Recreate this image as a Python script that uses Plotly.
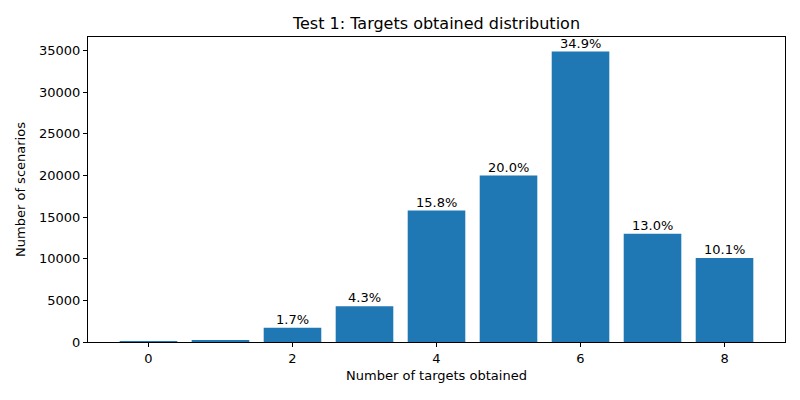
import plotly.graph_objects as go

"""DATA"""
targets = [0, 1, 2, 3, 4, 5, 6, 7, 8]
scenarios = [60, 140, 1700, 4300, 15800, 20000, 34900, 13000, 10100]

total = sum(scenarios)
labels = []
for v in scenarios:
    p = v / total * 100
    labels.append(f"{p:.1f}%" if p >= 1 else "")

"""PLOT"""
fig = go.Figure()
fig.add_trace(go.Bar(x=targets, y=scenarios, width=0.8,
                     marker=dict(color="#1f77b4", line=dict(width=0))))

for t, v, lab in zip(targets, scenarios, labels):
    if lab:
        fig.add_annotation(x=t, y=v, text=lab, showarrow=False, yanchor="bottom",
                           yshift=-1, font=dict(size=13, color="black"))

# page is offset by the browser's 8px body margin, so margins are shifted
fig.update_layout(
    width=800, height=400,
    paper_bgcolor="white", plot_bgcolor="white",
    font=dict(family="DejaVu Sans", size=13, color="black"),
    title=dict(text="Test 1: Targets obtained distribution", x=0.5, xanchor="center",
               xref="paper", y=0.9625, yanchor="middle", font=dict(size=16)),
    margin=dict(l=80, r=23, t=29, b=66),
    showlegend=False,
)
axis_style = dict(showline=True, linecolor="black", linewidth=1, mirror=True,
                  ticks="outside", ticklen=4, tickcolor="black", showgrid=False, zeroline=False,
                  automargin=False, tickfont=dict(size=13))
fig.update_xaxes(range=[-0.84, 8.84], tickvals=[0, 2, 4, 6, 8],
                 title=dict(text="Number of targets obtained", standoff=6, font=dict(size=13)),
                 **axis_style)
fig.update_yaxes(range=[0, max(scenarios) * 1.05], dtick=5000, tickformat="d",
                 title=dict(text="Number of scenarios", standoff=10, font=dict(size=13)),
                 **axis_style)

fig.write_html("out.html")
